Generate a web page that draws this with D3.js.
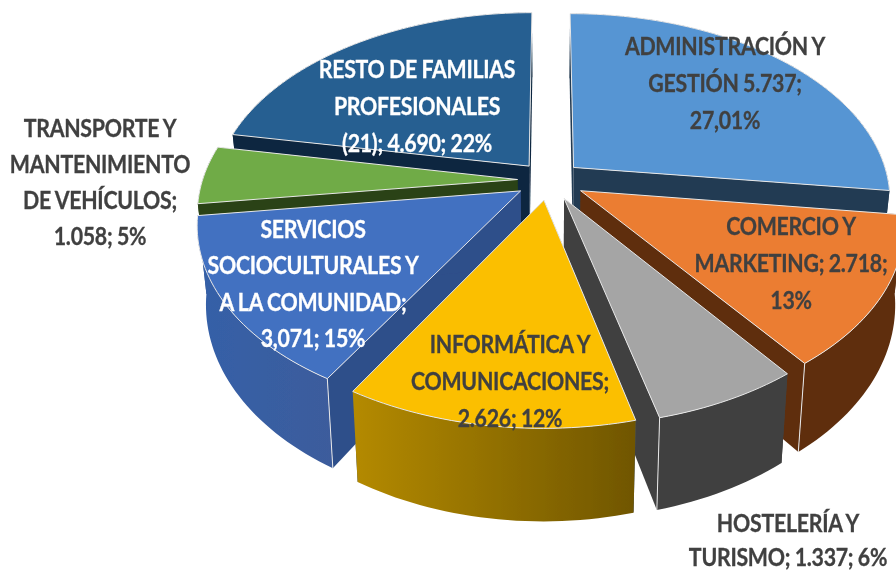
<!DOCTYPE html>
<html><head><meta charset="utf-8">
<script src="https://cdnjs.cloudflare.com/ajax/libs/d3/7.8.5/d3.min.js"></script>
<style>html,body{margin:0;padding:0;background:#fff}svg{display:block}</style>
</head><body><svg id="c" width="896" height="571"></svg>
<script>
// ---- data ----
const categories = ["ADMINISTRACIÓN Y GESTIÓN","COMERCIO Y MARKETING","HOSTELERÍA Y TURISMO","INFORMÁTICA Y COMUNICACIONES","SERVICIOS SOCIOCULTURALES Y A LA COMUNIDAD","TRANSPORTE Y MANTENIMIENTO DE VEHÍCULOS","RESTO DE FAMILIAS PROFESIONALES (21)"];
const values = [5737,2718,1337,2626,3071,1058,4690];
const labelLines = [
  ["ADMINISTRACIÓN Y","GESTIÓN 5.737;","27,01%"],
  ["COMERCIO Y","MARKETING; 2.718;","13%"],
  ["HOSTELERÍA Y","TURISMO; 1.337; 6%"],
  ["INFORMÁTICA Y","COMUNICACIONES;","2.626; 12%"],
  ["SERVICIOS","SOCIOCULTURALES Y","A LA COMUNIDAD;","3,071; 15%"],
  ["TRANSPORTE Y","MANTENIMIENTO","DE VEHÍCULOS;","1.058; 5%"],
  ["RESTO DE FAMILIAS","PROFESIONALES","(21); 4.690; 22%"]
];
// ---- styling / layout ----
const topColors  = ["#5795d3","#eb7d30","#a5a5a5","#fbbf00","#4371c1","#6fab46","#255e91"];
const faceColors = ["#233b52","#5e2f11","#404040","#2f4f8a","#2f4f8a","#2a4316","#0f2840"];
const rimLeft    = ["#233b52","#5e2f11","#404040","#b48a00","#3560a8","#2a4316","#0f2840"];
const rimRight   = ["#233b52","#5e2f11","#404040","#705600","#3c5c9c","#2a4316","#0f2840"];
const textColors = ["#404040","#404040","#404040","#404040","#ffffff","#404040","#ffffff"];
const labelAnchor = [[725,55],[791,235],[788,532],[510,353],[313,238],[100,137],[417,78]];
const lineGap = [37,37,34,37,36.5,36,37];
const drawOrder = [6,0,5,4,1,2,3];
const cornerEdge = {1:"end",2:"end",4:"start"};
const explode = [0.105,0.115,0.11,0.11,0.107,0.10,0.10];

const svg = d3.select("#c");
const defs = svg.append("defs");
defs.append("filter").attr("id","soft").attr("x","-5%").attr("y","-5%").attr("width","110%").attr("height","110%")
  .append("feGaussianBlur").attr("stdDeviation",0.45);

const cx=549, cy=180, R=315, A=183, K=0.165, D=76, SHRINK=0.025;
function project(u,v,z){
  const s=1/(1-K*v);
  return [cx+R*u*s*(1-SHRINK*z), cy+A*v*s+z*D*s];
}
const pie=d3.pie().sort(null).value(d=>d).startAngle(0).endAngle(2*Math.PI);
const arcs=pie(values);
const line=d3.line();
const g=svg.append("g").attr("filter","url(#soft)");

function rimPts(d,ox,oy,z){
  const n=Math.max(8,Math.ceil((d.endAngle-d.startAngle)*40));
  return d3.range(n+1).map(i=>{
    const a=d.startAngle+(d.endAngle-d.startAngle)*i/n;
    return project(Math.sin(a)+ox,-Math.cos(a)+oy,z);
  });
}
drawOrder.forEach(i=>{
  const d=arcs[i], mid=(d.startAngle+d.endAngle)/2;
  const ox=explode[i]*Math.sin(mid), oy=-explode[i]*Math.cos(mid);
  const apexT=project(ox,oy,0), apexB=project(ox,oy,1);
  const rimT=rimPts(d,ox,oy,0), rimB=rimPts(d,ox,oy,1);
  const n=rimT.length-1;
  const grad=defs.append("linearGradient").attr("id","rim"+i).attr("gradientUnits","objectBoundingBox").attr("x1",0).attr("x2",1).attr("y1",0).attr("y2",0);
  grad.append("stop").attr("offset",0).attr("stop-color",rimLeft[i]);
  grad.append("stop").attr("offset",1).attr("stop-color",rimRight[i]);
  // cut faces
  [[rimT[0],rimB[0]],[rimT[n],rimB[n]]].forEach(e=>{
    g.append("path").attr("d",line([apexT,e[0],e[1],apexB])+"Z").attr("fill",faceColors[i]);
  });
  // outer rim
  g.append("path").attr("d",line(rimT.concat(rimB.slice().reverse()))+"Z").attr("fill","url(#rim"+i+")");
  // front corner edge
  if(cornerEdge[i]){
    const j=cornerEdge[i]==="end"?n:0;
    g.append("path").attr("d",line([rimT[j],rimB[j]])).attr("stroke","#e8e8e8").attr("stroke-width",1).attr("fill","none");
  }
  // top
  g.append("path").attr("d",line([apexT].concat(rimT))+"Z").attr("fill",topColors[i])
    .attr("stroke","#e8e8e8").attr("stroke-width",1).attr("stroke-linejoin","round");
});
// labels
const tg=svg.append("g").attr("filter","url(#soft)");
labelLines.forEach((lines,i)=>{
  const t=tg.append("text").attr("text-anchor","middle")
    .attr("transform","translate("+labelAnchor[i][0]+","+labelAnchor[i][1]+") scale(0.87,1)")
    .attr("font-family","Lato, 'Open Sans', sans-serif").attr("font-weight",700)
    .attr("font-size",24.5).attr("fill",textColors[i]).attr("stroke",textColors[i]).attr("stroke-width",0.3)
    .attr("letter-spacing","-0.3px").attr("word-spacing","-0.5px");
  lines.forEach((s,k)=>{
    t.append("tspan").attr("x",0).attr("y",k*lineGap[i]).text(s);
  });
});
</script></body></html>
